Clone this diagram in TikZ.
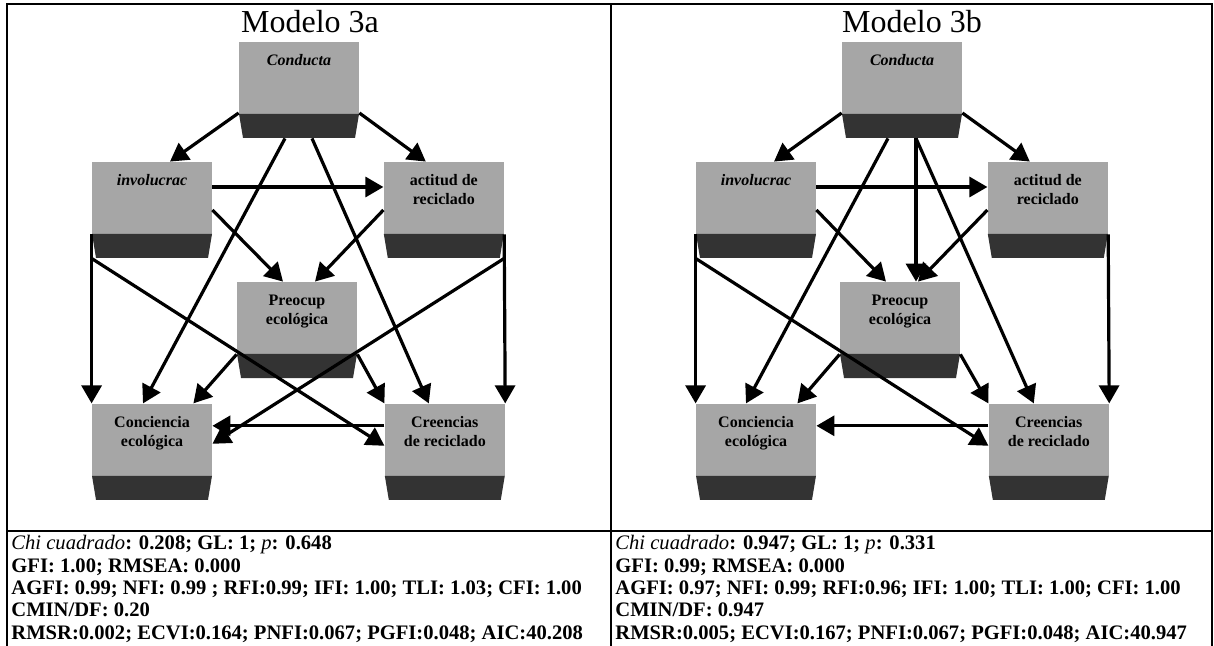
\documentclass[tikz,border=0pt]{standalone}
\usepackage{fontspec}
\setmainfont{Liberation Serif}
\usetikzlibrary{arrows.meta,positioning}

\colorlet{lite}{black!35}
\colorlet{dark}{black!80}
% box text: first baseline 12pt below the top
\newcommand{\vtx}[1]{\parbox[t][48pt][t]{60pt}{\centering\rule{0pt}{12pt}#1}}
\newcommand{\ital}[1]{{\mdseries\itshape #1}}
\newcommand{\sline}{\rule[-3pt]{0pt}{8.2pt}}

\begin{document}
\begin{tikzpicture}[x=0.5pt, y=-0.5pt,
  font=\fontsize{8}{9.5}\selectfont\bfseries,
  >={Triangle[length=9pt,width=10pt]},
  var/.style={inner sep=0pt, path picture={
      \fill[lite] (path picture bounding box.north west)
        rectangle ([yshift=12pt]path picture bounding box.south east);
      \fill[dark] ([yshift=12pt]path picture bounding box.south west)
        -- ([yshift=12pt]path picture bounding box.south east)
        -- ([xshift=-2pt]path picture bounding box.south east)
        -- ([xshift=2pt]path picture bounding box.south west) -- cycle;}},
  a/.style={->, line width=1.6pt},
  frm/.style={line width=0.8pt},
  ttl/.style={anchor=base, font=\fontsize{16}{18}\selectfont},
  stat/.style={anchor=north west, inner sep=0pt, align=left,
               font=\fontsize{10.3}{11.2}\selectfont\bfseries},
]
\useasboundingbox (0,0) rectangle (1214,646);

% table rules
\draw[frm] (7,646) -- (7,4) -- (1212,4) -- (1212,646);
\draw[frm] (611,4) -- (611,646);
\draw[frm] (7,531) -- (1212,531);

% Modelo 3a
\node[ttl] (tta) at (310,33) {Modelo 3a};
\node[var] (cond) at (299,90) {\vtx{\itshape Conducta}};
\node[var] (invo) at (152,210) {\vtx{\itshape involucrac}};
\node[var, right=85.5pt of invo] (acti) {\vtx{actitud de\\reciclado}};
\node[var] (preo) at (297,330) {\vtx{Preocup\\ecológica}};
\node[var, below=72.5pt of invo] (conc) {\vtx{Conciencia\\ecológica}};
\node[var, right=86pt of conc] (cree) {\vtx{Creencias\\de reciclado}};

\draw[a] ([yshift=-11.5pt]cond.west) -- ([xshift=9pt]invo.north);
\draw[a] ([yshift=-11.5pt]cond.east) -- ([xshift=-9pt]acti.north);
\draw[a] ([xshift=-7pt]cond.south) -- ([xshift=-4.5pt]conc.north);
\draw[a] ([xshift=6.5pt]cond.south) -- ([xshift=-8pt]cree.north);
\draw[a] ([yshift=11.5pt]invo.east) -- ([yshift=11.5pt]acti.west);
\draw[a] (invo.east) -- ([xshift=-7pt]preo.north);
\draw[a] (acti.west) -- ([xshift=9pt]preo.north);
\draw[a] ([yshift=12pt]invo.south west) -- (conc.north west);
\draw[a] (invo.south west) -- ([yshift=3pt]cree.west);
\draw[a] ([yshift=12pt]acti.south east) -- (cree.north east);
\draw[a] (acti.south east) -- ([yshift=4pt]conc.east);
\draw[a] ([yshift=12pt]preo.south west) -- ([xshift=-9.5pt]conc.north east);
\draw[a] ([yshift=12pt]preo.south east) -- (cree.north west);
\draw[a] ([yshift=13pt]cree.west) -- ([yshift=13pt]conc.east);

\node[stat] (sta) at (11,535) {\sline\ital{Chi cuadrado}: 0.208; GL: 1; \ital{p}: 0.648\\
  \sline GFI: 1.00; RMSEA: 0.000\\
  \sline AGFI: 0.99; NFI: 0.99 ; RFI:0.99; IFI: 1.00; TLI: 1.03; CFI: 1.00\\
  \sline CMIN/DF: 0.20\\
  \sline RMSR:0.002; ECVI:0.164; PNFI:0.067; PGFI:0.048; AIC:40.208};

% Modelo 3b
\begin{scope}[xshift=301.5pt]
\node[ttl] (ttb) at (309,33) {Modelo 3b};
\node[var] (cond) at (299,90) {\vtx{\itshape Conducta}};
\node[var] (invo) at (153,210) {\vtx{\itshape involucrac}};
\node[var, right=85.5pt of invo] (acti) {\vtx{actitud de\\reciclado}};
\node[var] (preo) at (297,330) {\vtx{Preocup\\ecológica}};
\node[var, below=72.5pt of invo] (conc) {\vtx{Conciencia\\ecológica}};
\node[var, right=86pt of conc] (cree) {\vtx{Creencias\\de reciclado}};

\draw[a] ([yshift=-11.5pt]cond.west) -- ([xshift=9pt]invo.north);
\draw[a] ([yshift=-11.5pt]cond.east) -- ([xshift=-9pt]acti.north);
\draw[a] ([xshift=-7pt]cond.south) -- ([xshift=-5pt]conc.north);
\draw[a] ([xshift=7pt]cond.south) -- ([xshift=7pt]cond.south |- preo.north);
\draw[a] ([xshift=7pt]cond.south) -- ([xshift=-7.5pt]cree.north);
\draw[a] ([yshift=11.5pt]invo.east) -- ([yshift=11.5pt]acti.west);
\draw[a] (invo.east) -- ([xshift=-7pt]preo.north);
\draw[a] (acti.west) -- ([xshift=9pt]preo.north);
\draw[a] ([yshift=12pt]invo.south west) -- (conc.north west);
\draw[a] (invo.south west) -- ([yshift=3pt]cree.west);
\draw[a] ([yshift=12pt]acti.south east) -- (cree.north east);
\draw[a] ([yshift=12pt]preo.south west) -- ([xshift=-9.5pt]conc.north east);
\draw[a] ([yshift=12pt]preo.south east) -- (cree.north west);
\draw[a] ([yshift=13pt]cree.west) -- ([yshift=13pt]conc.east);
\end{scope}

\node[stat] (stb) at (615,535) {\sline\ital{Chi cuadrado}: 0.947; GL: 1; \ital{p}: 0.331\\
  \sline GFI: 0.99; RMSEA: 0.000\\
  \sline AGFI: 0.97; NFI: 0.99; RFI:0.96; IFI: 1.00; TLI: 1.00; CFI: 1.00\\
  \sline CMIN/DF: 0.947\\
  \sline RMSR:0.005; ECVI:0.167; PNFI:0.067; PGFI:0.048; AIC:40.947};
\end{tikzpicture}
\end{document}
